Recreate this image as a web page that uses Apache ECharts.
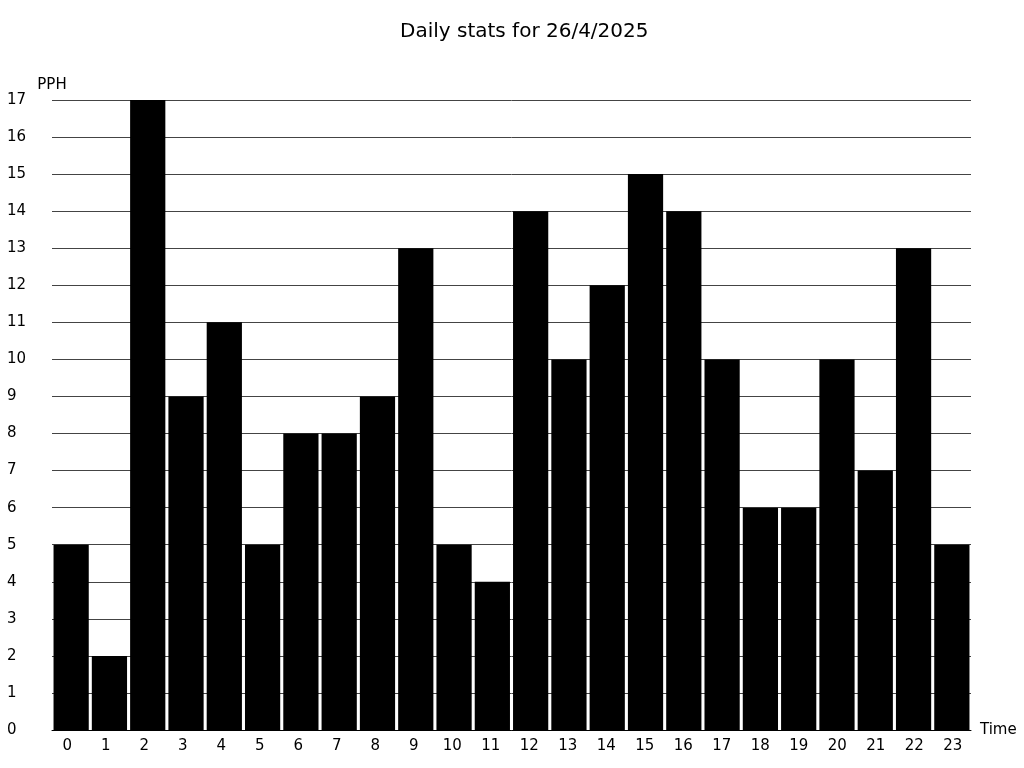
<!DOCTYPE html>
<html><head><meta charset="utf-8">
<script src="https://cdn.jsdelivr.net/npm/echarts@6/dist/echarts.min.js"></script>
<style>html,body{margin:0;padding:0;background:#fff}#c{width:1024px;height:768px}</style>
</head><body><div id="c"></div>
<script>
const categories = ['0','1','2','3','4','5','6','7','8','9','10','11','12','13','14','15','16','17','18','19','20','21','22','23'];
const pph = [5,2,17,9,11,5,8,8,9,13,5,4,14,10,12,15,14,10,6,6,10,7,13,5];
const yTicks = {min:0, max:17, interval:1};
const titleText = 'Daily stats for 26/4/2025';
const chart = echarts.init(document.getElementById('c'));
const font = {fontFamily:'DejaVu Sans', fontSize:15, color:'#000'};
chart.setOption({
  animation:false,
  backgroundColor:'#fff',
  textStyle:{fontFamily:'DejaVu Sans'},
  title:{text:titleText, left:395, top:17, textStyle:{fontFamily:'DejaVu Sans', fontSize:20, fontWeight:'normal', color:'#000'}},
  grid:[{left:52, right:53, top:100, bottom:38, containLabel:false},
        {left:48, width:924, top:100, bottom:38, containLabel:false}],
  xAxis:[{type:'category', data:categories, gridIndex:0, name:'Time', nameLocation:'end', nameGap:9,
    nameTextStyle:Object.assign({verticalAlign:'middle'}, font),
    axisLine:{lineStyle:{color:'#000', width:1}}, axisTick:{show:false},
    axisLabel:{show:false}},
    {type:'category', data:categories, gridIndex:1,
    axisLine:{show:false}, axisTick:{show:false},
    axisLabel:Object.assign({margin:9}, font)}],
  yAxis:[{type:'value', gridIndex:0, min:yTicks.min, max:yTicks.max, interval:yTicks.interval, name:'PPH', nameGap:7,
    nameTextStyle:Object.assign({align:'center'}, font),
    axisLine:{show:false}, axisTick:{show:false},
    axisLabel:Object.assign({align:'left', margin:45, verticalAlign:'middle', padding:[3,0,0,0]}, font),
    splitLine:{lineStyle:{color:'#444', width:1}}},
    {type:'value', gridIndex:1, min:yTicks.min, max:yTicks.max, interval:yTicks.interval, show:false, splitLine:{show:false}}],
  series:[{type:'bar', data:pph, xAxisIndex:0, yAxisIndex:0, barCategoryGap:'8%', itemStyle:{color:'#000'}, z:3}]
});
</script></body></html>
